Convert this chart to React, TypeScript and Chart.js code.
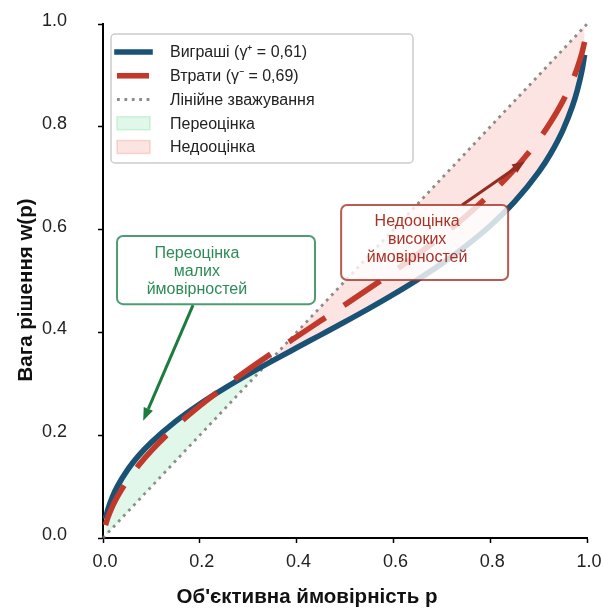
import React, { useEffect, useRef } from 'react';
import { Chart, registerables } from 'chart.js';

Chart.register(...registerables);

// ---- data ----
const pValues = [0.005, 0.01, 0.02, 0.03, 0.05, 0.075, 0.1, 0.15, 0.2, 0.25, 0.3, 0.35, 0.4, 0.45, 0.5, 0.55, 0.6, 0.65, 0.7, 0.75, 0.8, 0.85, 0.9, 0.925, 0.95, 0.97, 0.98, 0.99, 0.995];
const gainsWeights = [0.0372, 0.0553, 0.0811, 0.1008, 0.1316, 0.1616, 0.1863, 0.2269, 0.2608, 0.2907, 0.3184, 0.3446, 0.37, 0.3952, 0.4206, 0.4467, 0.4739, 0.5027, 0.5338, 0.5683, 0.6074, 0.6537, 0.7117, 0.7481, 0.7932, 0.8404, 0.871, 0.9116, 0.9402];
const lossesWeights = [0.025, 0.0397, 0.0624, 0.0809, 0.1114, 0.143, 0.1701, 0.2167, 0.257, 0.2935, 0.3276, 0.3601, 0.3916, 0.4228, 0.454, 0.4856, 0.5181, 0.5519, 0.5878, 0.6264, 0.669, 0.7173, 0.7749, 0.8093, 0.8499, 0.89, 0.9145, 0.9451, 0.9651];
const diagX = [0, 1];
const diagY = [0, 1];
const xTicks = [0, 0.2, 0.4, 0.6, 0.8, 1.0];
const yTicks = [0, 0.2, 0.4, 0.6, 0.8, 1.0];

const gainsLabel = 'Виграші (γ⁺ = 0,61)';
const lossesLabel = 'Втрати (γ⁻ = 0,69)';
const linearLabel = 'Лінійне зважування';
const overLabel = 'Переоцінка';
const underLabel = 'Недооцінка';
const xTitle = "Об'єктивна ймовірність p";
const yTitle = 'Вага рішення w(p)';
const overNote = ['Переоцінка', 'малих', 'ймовірностей'];
const underNote = ['Недооцінка', 'високих', 'ймовірностей'];

// ---- styles ----
const FONT = "'Liberation Sans', Arial, Helvetica, sans-serif";
const BLUE = '#1a5276';
const RED = '#c0392b';
const GRAY = 'rgba(120,120,120,0.85)';
const GREEN_FILL = 'rgba(46,204,113,0.15)';
const PINK_FILL = 'rgba(231,76,60,0.15)';

function roundRect(ctx: CanvasRenderingContext2D, x: number, y: number, w: number, h: number, r: number) {
  ctx.beginPath();
  ctx.moveTo(x + r, y);
  ctx.arcTo(x + w, y, x + w, y + h, r);
  ctx.arcTo(x + w, y + h, x, y + h, r);
  ctx.arcTo(x, y + h, x, y, r);
  ctx.arcTo(x, y, x + w, y, r);
  ctx.closePath();
}

function drawArrow(ctx: CanvasRenderingContext2D, x1: number, y1: number, x2: number, y2: number, color: string, width: number, headLen: number, headW: number) {
  const ang = Math.atan2(y2 - y1, x2 - x1);
  const bx = x2 - headLen * Math.cos(ang);
  const by = y2 - headLen * Math.sin(ang);
  ctx.save();
  ctx.strokeStyle = color;
  ctx.lineWidth = width;
  ctx.lineCap = 'butt';
  ctx.beginPath();
  ctx.moveTo(x1, y1);
  ctx.lineTo(bx, by);
  ctx.stroke();
  ctx.fillStyle = color;
  ctx.beginPath();
  ctx.moveTo(x2, y2);
  ctx.lineTo(bx + (headW / 2) * Math.sin(ang), by - (headW / 2) * Math.cos(ang));
  ctx.lineTo(bx - (headW / 2) * Math.sin(ang), by + (headW / 2) * Math.cos(ang));
  ctx.closePath();
  ctx.fill();
  ctx.restore();
}

const notes = [
  {
    lines: overNote, tx: 0.194, ty: 0.519, box: [0.029, 0.5875, 0.438, 0.455],
    from: [0.186, 0.453], to: [0.083, 0.228],
    textColor: '#2e8b57', border: 'rgba(46,139,87,0.85)', arrowColor: '#1e7b3e',
  },
  {
    lines: underNote, tx: 0.649, ty: 0.58, box: [0.492, 0.648, 0.837, 0.502],
    from: [0.742, 0.648], to: [0.872, 0.733],
    textColor: '#a93226', border: 'rgba(169,50,38,0.8)', arrowColor: '#922b21',
  },
];

const overlayPlugin = {
  id: 'overlay',
  afterDatasetsDraw(chart: any) {
    const ctx: CanvasRenderingContext2D = chart.ctx;
    const xs = chart.scales.x;
    const ys = chart.scales.y;
    for (const n of notes) {
      drawArrow(ctx, xs.getPixelForValue(n.from[0]), ys.getPixelForValue(n.from[1]),
        xs.getPixelForValue(n.to[0]), ys.getPixelForValue(n.to[1]), n.arrowColor, 3, 13, 10);
      const bx1 = xs.getPixelForValue(n.box[0]);
      const by1 = ys.getPixelForValue(n.box[1]);
      const bx2 = xs.getPixelForValue(n.box[2]);
      const by2 = ys.getPixelForValue(n.box[3]);
      ctx.save();
      roundRect(ctx, bx1, by1, bx2 - bx1, by2 - by1, 6);
      ctx.fillStyle = 'rgba(255,255,255,0.8)';
      ctx.fill();
      ctx.lineWidth = 2;
      ctx.strokeStyle = n.border;
      ctx.stroke();
      ctx.fillStyle = n.textColor;
      ctx.font = `16px ${FONT}`;
      ctx.textAlign = 'center';
      ctx.textBaseline = 'middle';
      const cx = xs.getPixelForValue(n.tx);
      const cy = ys.getPixelForValue(n.ty);
      const lh = 18;
      n.lines.forEach((t, i) => {
        ctx.fillText(t, cx, cy + (i - (n.lines.length - 1) / 2) * lh);
      });
      ctx.restore();
    }
  },
  afterDraw(chart: any) {
    const ctx: CanvasRenderingContext2D = chart.ctx;
    const ca = chart.chartArea;
    // legend
    const lx = ca.left + 8;
    const ly = ca.top + 10;
    ctx.save();
    roundRect(ctx, lx, ly, 302, 129, 4);
    ctx.fillStyle = 'rgba(255,255,255,0.9)';
    ctx.fill();
    ctx.lineWidth = 1.5;
    ctx.strokeStyle = '#cccccc';
    ctx.stroke();
    const hx1 = lx + 6;
    const hx2 = lx + 39;
    const rows = [gainsLabel, lossesLabel, linearLabel, overLabel, underLabel];
    rows.forEach((label, i) => {
      const y = ly + 18 + i * 23.75;
      ctx.save();
      if (i === 0) {
        ctx.strokeStyle = BLUE; ctx.lineWidth = 5.6; ctx.lineCap = 'square';
        ctx.beginPath(); ctx.moveTo(hx1, y); ctx.lineTo(hx2, y); ctx.stroke();
      } else if (i === 1) {
        ctx.strokeStyle = RED; ctx.lineWidth = 5.6; ctx.lineCap = 'butt';
        ctx.beginPath(); ctx.moveTo(hx1, y); ctx.lineTo(hx2 - 1, y); ctx.stroke();
      } else if (i === 2) {
        ctx.strokeStyle = GRAY; ctx.lineWidth = 2.8; ctx.lineCap = 'butt';
        ctx.setLineDash([2.8, 4.6]);
        ctx.beginPath(); ctx.moveTo(hx1, y); ctx.lineTo(hx2, y); ctx.stroke();
      } else {
        ctx.fillStyle = i === 3 ? GREEN_FILL : PINK_FILL;
        ctx.fillRect(hx1, y - 6.5, hx2 - hx1, 13);
        ctx.strokeStyle = i === 3 ? 'rgba(46,204,113,0.2)' : 'rgba(231,76,60,0.2)';
        ctx.lineWidth = 1.5;
        ctx.strokeRect(hx1, y - 6.5, hx2 - hx1, 13);
      }
      ctx.restore();
      ctx.fillStyle = '#222';
      ctx.font = `16px ${FONT}`;
      ctx.textAlign = 'left';
      ctx.textBaseline = 'middle';
      ctx.fillText(label, lx + 59, y + 1);
    });
    ctx.restore();
    // axis titles
    ctx.save();
    ctx.fillStyle = '#111';
    ctx.font = `bold 20.5px ${FONT}`;
    ctx.textAlign = 'center';
    ctx.textBaseline = 'middle';
    ctx.fillText(xTitle, 307, 597);
    ctx.translate(26, 290);
    ctx.rotate(-Math.PI / 2);
    ctx.fillText(yTitle, 0, 0);
    ctx.restore();
  },
};

export default function App() {
  const ref = useRef<HTMLCanvasElement | null>(null);
  useEffect(() => {
    if (!ref.current) return;
    const chart = new Chart(ref.current, {
      type: 'line',
      data: {
        datasets: [
          {
            label: lossesLabel,
            data: pValues.map((p, i) => ({ x: p, y: lossesWeights[i] })),
            borderColor: RED,
            borderWidth: 5.6,
            borderDash: [44, 22],
            borderCapStyle: 'butt',
            pointRadius: 0,
            cubicInterpolationMode: 'monotone',
            fill: false,
            clip: false,
          } as any,
          {
            label: gainsLabel,
            data: pValues.map((p, i) => ({ x: p, y: gainsWeights[i] })),
            borderColor: BLUE,
            borderWidth: 5.6,
            borderCapStyle: 'butt',
            pointRadius: 0,
            cubicInterpolationMode: 'monotone',
            fill: { target: 2, above: GREEN_FILL, below: PINK_FILL },
            clip: false,
          } as any,
          {
            label: linearLabel,
            data: diagX.map((x, i) => ({ x, y: diagY[i] })),
            borderColor: GRAY,
            borderWidth: 2.8,
            borderDash: [2.8, 4.6],
            borderCapStyle: 'butt',
            pointRadius: 0,
            fill: false,
            clip: false,
          } as any,
        ],
      },
      options: {
        animation: false,
        responsive: false,
        layout: { padding: { left: 0, top: 24, right: 16, bottom: 0 } },
        plugins: { legend: { display: false }, tooltip: { enabled: false }, filler: { propagate: false } },
        scales: {
          x: {
            type: 'linear', min: 0, max: 1,
            afterBuildTicks: (s: any) => { s.ticks = xTicks.map((v) => ({ value: v })); },
            afterFit: (s: any) => { s.height = 70; s.paddingLeft = 0; s.paddingRight = 0; },
            ticks: {
              font: { size: 18, family: FONT }, color: '#222', padding: 8, labelOffset: 2,
              maxRotation: 0, callback: (v: any) => Number(v).toFixed(1),
            },
            grid: { display: true, drawOnChartArea: false, drawTicks: true, tickLength: 5, tickWidth: 1.5, tickColor: '#000' },
            border: { display: true, color: '#000', width: 2 },
          },
          y: {
            type: 'linear', min: 0, max: 1,
            afterBuildTicks: (s: any) => { s.ticks = yTicks.map((v) => ({ value: v })); },
            afterFit: (s: any) => { s.width = 103; s.paddingTop = 0; s.paddingBottom = 0; },
            ticks: {
              font: { size: 18, family: FONT }, color: '#222', padding: 31, labelOffset: -3,
              callback: (v: any) => Number(v).toFixed(1),
            },
            grid: { display: true, drawOnChartArea: false, drawTicks: true, tickLength: 5, tickWidth: 1.5, tickColor: '#000' },
            border: { display: true, color: '#000', width: 2 },
          },
        },
      } as any,
      plugins: [overlayPlugin],
    });
    return () => chart.destroy();
  }, []);
  return (
    <div style={{ position: 'absolute', left: 0, top: 0, width: 603, height: 608, background: '#fff' }}>
      <canvas ref={ref} width={603} height={608} style={{ display: 'block' }} />
    </div>
  );
}
